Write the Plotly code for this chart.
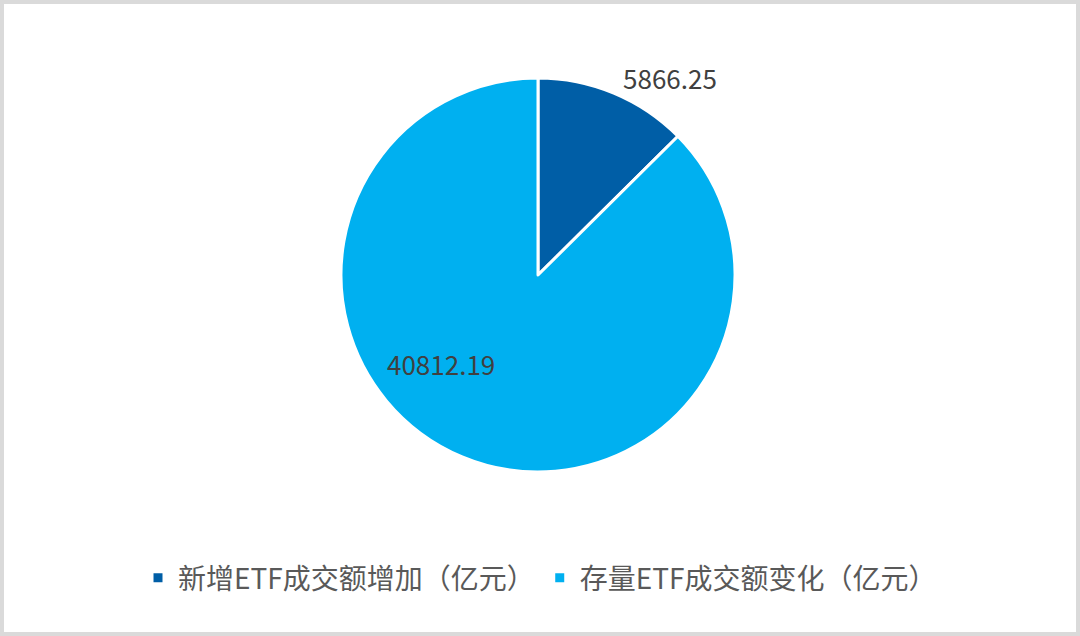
import plotly.graph_objects as go

labels = ["新增ETF成交额增加（亿元）", "存量ETF成交额变化（亿元）"]
values = [5866.25, 40812.19]
colors = ["#005EA6", "#00B0F0"]

FONT = "Noto Sans CJK SC"

fig = go.Figure()
fig.add_trace(go.Pie(
    labels=labels,
    values=values,
    sort=False,
    direction="clockwise",
    rotation=0,
    marker=dict(colors=colors, line=dict(color="white", width=3)),
    texttemplate="%{value:.2f}",
    textposition=["outside", "none"],
    textfont=dict(color="#404040", size=26, family=FONT),
    domain=dict(x=[341/1080, 735/1080], y=[1-472/636, 1-78/636]),
    hoverinfo="label+value",
))

fig.update_layout(
    width=1080, height=636,
    margin=dict(l=0, r=0, t=0, b=0),
    paper_bgcolor="white",
    showlegend=True,
    legend=dict(orientation="h", x=0.5, xanchor="center", y=1-578/636, yanchor="middle",
                font=dict(size=28, color="#595959", family=FONT)),
    annotations=[dict(text=f"{values[1]:.2f}", xref="paper", yref="paper",
                      x=441/1080, y=1-363/636, showarrow=False,
                      font=dict(color="#404040", size=26, family=FONT))],
    shapes=[dict(type="rect", xref="paper", yref="paper", x0=0, y0=0, x1=1, y1=1,
                 line=dict(color="#DADADA", width=8), fillcolor="rgba(0,0,0,0)", layer="above")],
)

fig.write_html("out.html", config={"displayModeBar": False},
               post_script="document.body.style.margin='0';document.body.style.overflow='hidden';")
